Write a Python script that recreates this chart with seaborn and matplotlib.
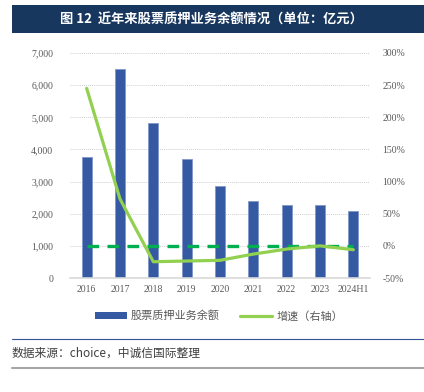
import matplotlib
matplotlib.use("Agg")
import matplotlib.pyplot as plt
import seaborn as sns
import numpy as np
import pandas as pd
from matplotlib.patches import Rectangle
from matplotlib.lines import Line2D

categories = ["2016", "2017", "2018", "2019", "2020", "2021", "2022", "2023", "2024H1"]
balance = [3750, 6510, 4815, 3700, 2850, 2395, 2280, 2280, 2080]
growth = [245, 73, -24.7, -23.6, -22.5, -12.8, -5, 0, -6]
zero_ref = [0, 0, 0, 0, 0, 0, 0, 0, 0]
left_ticks = [0, 1000, 2000, 3000, 4000, 5000, 6000, 7000]
right_ticks = [-50, 0, 50, 100, 150, 200, 250, 300]

title = "图 12  近年来股票质押业务余额情况（单位：亿元）"
source = "数据来源：choice，中诚信国际整理"
legend_labels = ["股票质押业务余额", "增速（右轴）"]

sns.set_theme(style="white")
plt.rcParams['font.family'] = ['Liberation Serif', 'Noto Sans CJK SC', 'DejaVu Sans']

df = pd.DataFrame({"cat": categories, "balance": balance, "growth": growth,
                   "zero": zero_ref, "pos": np.arange(len(categories))})

fig = plt.figure(figsize=(4.24, 3.92), dpi=100)
ax = fig.add_axes([70/424, 1-278/392, 300/424, 225/392])

bar_color = "#3559A3"
sns.barplot(data=df, x="pos", y="balance", color=bar_color, width=0.3,
            edgecolor="#7F97C9", linewidth=0.6, saturation=1, ax=ax, native_scale=True)
ax.set_xlim(-0.5, len(categories) - 0.5)
ax.set_ylim(0, 7000)
ax.set_yticks(left_ticks)
ax.set_yticklabels([f"{v:,}" for v in left_ticks])
ax.set_xticks(df["pos"])
ax.set_xticklabels(categories)
ax.set_xlabel("")
ax.set_ylabel("")
ax.yaxis.grid(True, linestyle=(0, (1, 1)), color="#D0D0D0", linewidth=0.7)
ax.set_axisbelow(True)
for s in ["top", "left", "right"]:
    ax.spines[s].set_visible(False)
ax.spines["bottom"].set_color("#D9D9D9")
ax.spines["bottom"].set_linewidth(1.2)
ax.tick_params(axis="both", length=0, labelsize=7, colors="#595959")
ax.tick_params(axis="y", pad=12)
ax.tick_params(axis="x", pad=5)

ax2 = ax.twinx()
sns.lineplot(data=df, x="pos", y="zero", color="#00B050", linewidth=2.4,
             ax=ax2, legend=False, dashes=False)
ax2.lines[-1].set_linestyle((0, (3.5, 2.5)))
sns.lineplot(data=df, x="pos", y="growth", color="#92D050", linewidth=2.3,
             ax=ax2, legend=False)
ax2.set_ylim(-50, 300)
ax2.set_yticks(right_ticks)
ax2.set_yticklabels([f"{v}%" for v in right_ticks])
ax2.set_ylabel("")
ax2.set_xlabel("")
for s in ["top", "left", "right", "bottom"]:
    ax2.spines[s].set_visible(False)
ax2.tick_params(axis="y", length=0, labelsize=7, colors="#595959", pad=9)
ax.set_xlim(-0.5, len(categories) - 0.5)

# Title banner
fig.patches.append(Rectangle((12/424, 1-33/392), 412/424, 28/392, transform=fig.transFigure,
                             facecolor="#17375E", edgecolor="none"))
fig.text(211/424, 1-19.5/392, title, color="white", fontsize=9.5, fontweight="bold",
         ha="center", va="center", family=['Noto Sans CJK SC', 'DejaVu Sans'])

# Legend
handles = [Rectangle((0, 0), 1, 1, facecolor=bar_color, edgecolor="none"),
           Line2D([0], [0], color="#92D050", linewidth=2.3)]
leg = fig.legend(handles, legend_labels, loc="center", bbox_to_anchor=(219/424, 1-316/392),
                 ncol=2, frameon=False, handlelength=2.9, handleheight=0.5,
                 columnspacing=1.8, handletextpad=0.35,
                 prop={'family': ['Noto Sans CJK SC'], 'size': 8})
for t in leg.get_texts():
    t.set_color("#595959")

# Bottom lines and source
fig.lines.append(Line2D([12/424, 1], [1-339/392, 1-339/392], transform=fig.transFigure,
                        color="#2F5597", linewidth=0.8))
fig.text(12/424, 1-353/392, source, fontsize=8.5, style="italic", color="#404040",
         ha="left", va="center", family=['Noto Sans CJK SC', 'DejaVu Sans'])
fig.lines.append(Line2D([12/424, 1], [1-368/392, 1-368/392], transform=fig.transFigure,
                        color="#A6A6A6", linewidth=1.5))

fig.savefig("out.png", dpi=100)
